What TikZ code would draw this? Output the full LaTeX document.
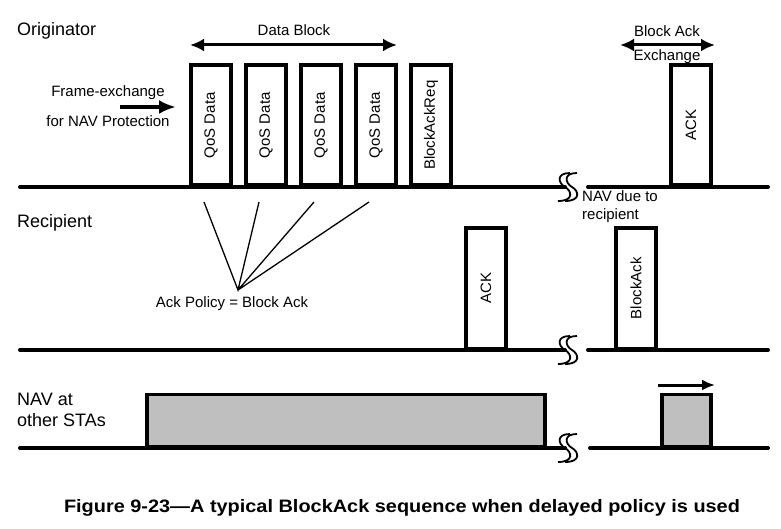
\documentclass[tikz,border=0pt]{standalone}
\usepackage{fontspec}
\setmainfont{Liberation Sans}
\usetikzlibrary{arrows.meta}

\begin{document}
\begin{tikzpicture}[x=1pt,y=-1pt,
        axis/.style={line width=4pt,line cap=round},
        frame/.style={draw,line width=3.5pt,minimum width=120pt,minimum height=40pt,inner sep=0pt,
            rotate=90,anchor=west,font=\fontsize{15}{18}\selectfont},
        navbox/.style={draw,fill=black!25,line width=3.5pt,anchor=south west,inner sep=0pt,minimum height=52pt},
        lbl/.style={font=\fontsize{15}{18}\selectfont,inner sep=0pt},
        sta/.style={font=\fontsize{18}{21}\selectfont,inner sep=0pt,anchor=west,align=left},
        span/.style={line width=3pt,{Latex[length=14pt,width=13pt]}-{Latex[length=14pt,width=13pt]}},
        brk/.style={line width=1.8pt}]
    \useasboundingbox (0,0) rectangle (781,529);

    % station lines
    \draw[axis] (20,187) -- (565,187);
    \draw[axis] (588,187) -- (768,187);
    \draw[axis] (20,350) -- (565,350);
    \draw[axis] (588,350) -- (768,350);
    \draw[axis] (20,448) -- (565,448);
    \draw[axis] (590,448) -- (768,448);

    % breaks
    \draw[brk] (570,173) .. controls (556,173) and (558,183) .. (565,187) .. controls (572,191) and (574,201) .. (558,201)
               (577,173) .. controls (563,173) and (565,183) .. (572,187) .. controls (579,191) and (581,201) .. (565,201);
    \draw[brk] (570,336) .. controls (556,336) and (558,346) .. (565,350) .. controls (572,354) and (574,364) .. (558,364)
               (577,336) .. controls (563,336) and (565,346) .. (572,350) .. controls (579,354) and (581,364) .. (565,364);
    \draw[brk] (570,434) .. controls (556,434) and (558,444) .. (565,448) .. controls (572,452) and (574,462) .. (558,462)
               (577,434) .. controls (563,434) and (565,444) .. (572,448) .. controls (579,452) and (581,462) .. (565,462);

    % station names
    \node[sta] (orig) at (17,31) {Originator};
    \node[sta] (recp) at (17,223) {Recipient};
    \node[sta] (nav) at (17,410) {NAV at\\other STAs};

    % originator frames
    \node[frame] (qd1) at (211,187) {QoS Data};
    \node[frame] (qd2) at (266,187) {QoS Data};
    \node[frame] (qd3) at (321,187) {QoS Data};
    \node[frame] (qd4) at (376,187) {QoS Data};
    \node[frame] (bar) at (431,187) {BlockAckReq};
    \node[frame] (oack) at (691,187) {ACK};

    % recipient frames
    \node[frame] (rack) at (486,350) {ACK};
    \node[frame] (rba) at (636,350) {BlockAck};

    % NAV
    \node[navbox,minimum width=398pt] (nav1) at (145,448) {};
    \node[navbox,minimum width=49pt] (nav2) at (660,448) {};
    \coordinate (nv1) at (658,385);
    \coordinate (nv2) at (715,385);
    \draw[line width=3pt,-{Latex[length=13pt,width=11pt]}] (nv1) -- (nv2);

    % data block
    \coordinate (db1) at (190,45);
    \coordinate (db2) at (397,45);
    \draw[span] (db1) -- (db2);
    \node[lbl] (dbl) at (294,30) {Data Block};

    % block ack exchange
    \coordinate (ba1) at (620,45);
    \coordinate (ba2) at (715,45);
    \draw[span] (ba1) -- (ba2);
    \node[lbl] (bal) at (667,31) {Block Ack};
    \node[lbl] (bex) at (667,57) {Exchange};

    % NAV protection
    \node[lbl] (fx1) at (108,93) {Frame-exchange};
    \node[lbl] (fx2) at (108,121) {for NAV Protection};
    \coordinate (fa1) at (120,107);
    \coordinate (fa2) at (176,107);
    \draw[line width=4pt,-{Latex[length=17pt,width=14pt]}] (fa1) -- (fa2);

    \node[lbl,anchor=west,align=left] (ndr) at (582,207) {NAV due to\\recipient};

    % ack policy
    \node[lbl] (ap) at (232,304) {Ack Policy = Block Ack};
    \coordinate (fan) at (238,290);
    \coordinate (f1) at (204,202);
    \coordinate (f2) at (259,202);
    \coordinate (f3) at (314,202);
    \coordinate (f4) at (369,202);
    \draw[line width=1.3pt] (f1) -- (fan) -- (f2) (fan) -- (f3) (fan) -- (f4);

    \node[font=\bfseries\fontsize{18}{22}\selectfont,inner sep=0pt] (cap) at (402,508)
        {\scalebox{1.106}[1]{Figure 9-23—A typical BlockAck sequence when delayed policy is used}};
\end{tikzpicture}
\end{document}
